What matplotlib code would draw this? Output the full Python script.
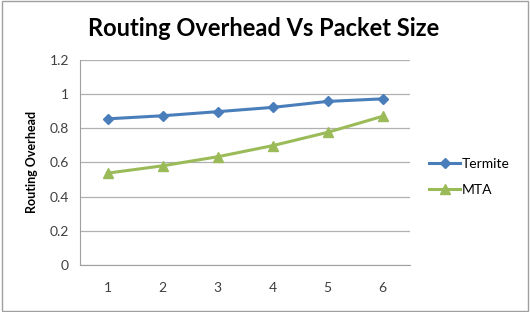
import matplotlib.pyplot as plt
from matplotlib.patches import Rectangle

plt.rcParams["font.family"] = ["Lato", "DejaVu Sans"]

packet_size = ["1", "2", "3", "4", "5", "6"]
termite = [0.855, 0.873, 0.897, 0.922, 0.957, 0.972]
mta = [0.537, 0.580, 0.633, 0.698, 0.776, 0.870]

fig = plt.figure(figsize=(5.3, 3.12), dpi=100)
fig.patches.append(Rectangle((0.004, 0.004), 0.992, 0.992, transform=fig.transFigure,
                             fill=False, edgecolor="#a0a0a0", linewidth=1))
ax = fig.add_axes([0.151, 0.151, 0.623, 0.657])

x = range(1, len(packet_size) + 1)
ax.plot(x, termite, color="#4a7ebb", linewidth=2.2, marker="D", markersize=5.5, label="Termite")
ax.plot(x, mta, color="#9bbb59", linewidth=2.2, marker="^", markersize=7, label="MTA")

ax.set_xlim(0.5, 6.5)
ax.set_ylim(0, 1.2)
ax.set_xticks(list(x))
ax.set_xticklabels(packet_size)
ax.set_yticks([0, 0.2, 0.4, 0.6, 0.8, 1.0, 1.2])
ax.set_yticklabels(["0", "0.2", "0.4", "0.6", "0.8", "1", "1.2"])
ax.tick_params(length=0, labelsize=10, colors="#404040", pad=8)
ax.tick_params(axis="x", pad=12)
ax.grid(axis="y", color="#b0b0b0", linewidth=0.9)
ax.set_axisbelow(True)
for s in ["top", "right"]:
    ax.spines[s].set_visible(False)
for s in ["left", "bottom"]:
    ax.spines[s].set_color("#a0a0a0")

ax.set_ylabel("Routing Overhead", fontsize=9, fontweight="bold", labelpad=8)
fig.text(0.497, 0.91, "Routing Overhead Vs Packet Size", ha="center", va="center",
         fontsize=17, fontweight="bold")
ax.legend(loc="center left", bbox_to_anchor=(1.02, 0.43), frameon=False, fontsize=10,
          handlelength=2.2, handletextpad=0.1, labelspacing=1.0)

fig.savefig("out.png", dpi=100)
